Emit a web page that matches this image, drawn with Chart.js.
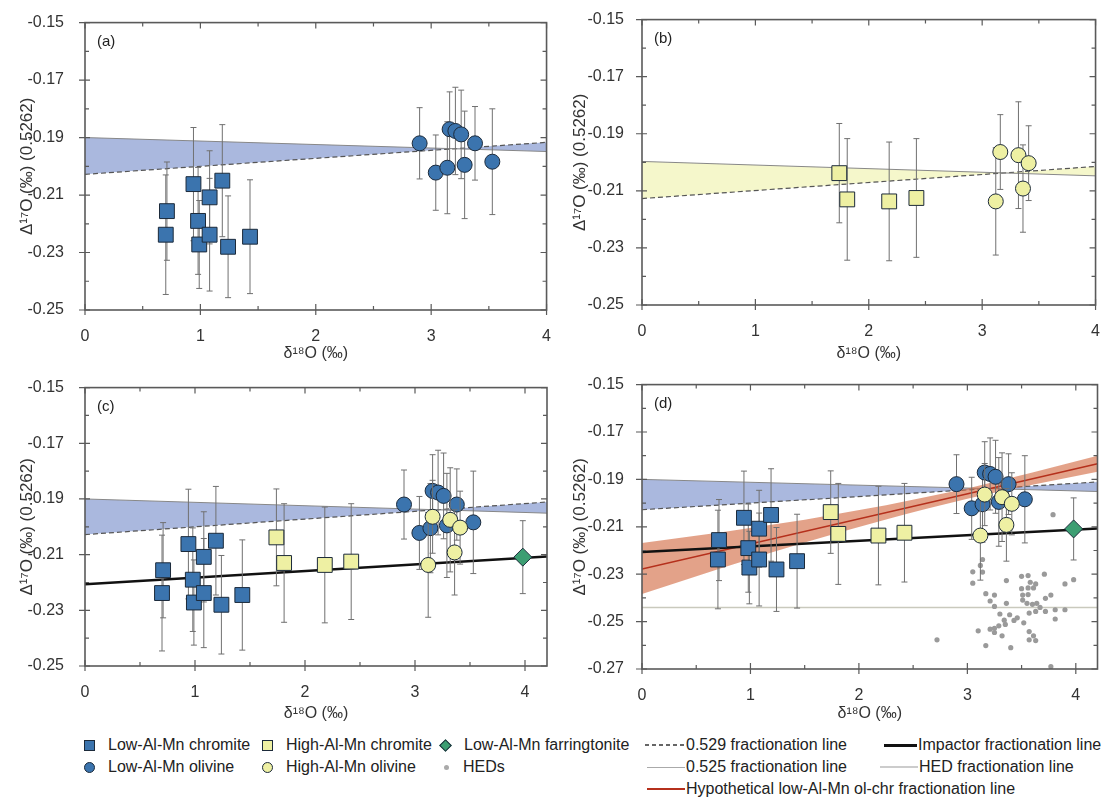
<!DOCTYPE html>
<html lang="en">
<head>
<meta charset="UTF-8">
<title>Oxygen isotope fractionation</title>
<script src="https://cdn.jsdelivr.net/npm/chart.js@4.4.1/dist/chart.umd.min.js"></script>
<style>
  body { margin: 0; background: #fff; width: 1109px; height: 800px; position: relative; overflow: hidden;
         font-family: "Liberation Sans", Arial, sans-serif; color: #222; }
  canvas { position: absolute; }
  .lg { position: absolute; height: 20px; line-height: 20px; font-size: 16px; white-space: nowrap;
        display: flex; align-items: center; }
  .lg i { display: inline-block; flex: none; }
  .sq { width: 9px; height: 9px; border: 1px solid #1c2a3a; margin-right: 13px; }
  .ci { width: 9px; height: 9px; border: 1px solid #1c2a3a; border-radius: 50%; margin-right: 13px; }
  .di { width: 7px; height: 7px; border: 1px solid #1c2a3a; transform: rotate(45deg); margin: 0 14px 0 2px; }
  .dot { width: 5px; height: 5px; border-radius: 50%; background: #aaa; margin-right: 14px; }
  .ln { height: 0; margin-right: 1px; }
</style>
</head>
<body>
<canvas id="pa" width="560" height="365" style="left:0;top:0"></canvas>
<canvas id="pb" width="552" height="365" style="left:557px;top:0"></canvas>
<canvas id="pc" width="560" height="360" style="left:0;top:365px"></canvas>
<canvas id="pd" width="552" height="360" style="left:557px;top:365px"></canvas>

<div class="lg" style="left:84px;top:735px"><i class="sq" style="background:#3b74ae"></i>Low-Al-Mn chromite</div>
<div class="lg" style="left:262px;top:735px"><i class="sq" style="background:#eef0a3"></i>High-Al-Mn chromite</div>
<div class="lg" style="left:439px;top:735px"><i class="di" style="background:#3c9e72"></i>Low-Al-Mn farringtonite</div>
<div class="lg" style="left:645px;top:735px"><i class="ln" style="width:40px;height:1.5px;background:repeating-linear-gradient(90deg,#666 0 4px,transparent 4px 7px)"></i>0.529 fractionation line</div>
<div class="lg" style="left:884px;top:735px"><i class="ln" style="width:33px;border-top:3px solid #111"></i>Impactor fractionation line</div>
<div class="lg" style="left:84px;top:757px"><i class="ci" style="background:#3b74ae"></i>Low-Al-Mn olivine</div>
<div class="lg" style="left:262px;top:757px"><i class="ci" style="background:#eef0a3"></i>High-Al-Mn olivine</div>
<div class="lg" style="left:444px;top:757px"><i class="dot"></i>HEDs</div>
<div class="lg" style="left:647px;top:757px"><i class="ln" style="width:38px;border-top:1.5px solid #aaa"></i>0.525 fractionation line</div>
<div class="lg" style="left:880px;top:757px"><i class="ln" style="width:38px;border-top:2px solid #ccc"></i>HED fractionation line</div>
<div class="lg" style="left:647px;top:779px"><i class="ln" style="width:38px;border-top:2px solid #b5301c"></i>Hypothetical low-Al-Mn ol-chr fractionation line</div>

<script>
// ---- values ----
const xTicks = [0, 1, 2, 3, 4];
const yTicksABC = [-0.25, -0.23, -0.21, -0.19, -0.17, -0.15];
const yTicksD = [-0.27, -0.25, -0.23, -0.21, -0.19, -0.17, -0.15];

// low-Al-Mn chromite (blue squares)
const lowChrX = [0.71, 0.70, 0.94, 0.98, 0.99, 1.08, 1.08, 1.19, 1.24, 1.43];
const lowChrY = [-0.2156, -0.2238, -0.2062, -0.2190, -0.2272, -0.2108, -0.2238, -0.2050, -0.2280, -0.2245];
const lowChrErr = [0.0171, 0.0208, 0.0197, 0.0186, 0.0153, 0.0162, 0.0196, 0.0195, 0.0177, 0.0198];

// low-Al-Mn olivine (blue circles)
const lowOlX = [2.90, 3.04, 3.14, 3.16, 3.21, 3.26, 3.29, 3.38, 3.53];
const lowOlY = [-0.1920, -0.2022, -0.2005, -0.1871, -0.1877, -0.1889, -0.1995, -0.1920, -0.1984];
const lowOlErr = [0.0124, 0.0131, 0.0160, 0.0130, 0.0152, 0.0154, 0.0187, 0.0128, 0.0184];

// high-Al-Mn chromite (yellow squares)
const highChrX = [1.74, 1.81, 2.18, 2.42];
const highChrY = [-0.2038, -0.2130, -0.2137, -0.2125];
const highChrErr = [0.0174, 0.0213, 0.0208, 0.0208];

// high-Al-Mn olivine (yellow circles)
const highOlX = [3.12, 3.16, 3.32, 3.36, 3.41];
const highOlY = [-0.2137, -0.1964, -0.1975, -0.2092, -0.2003];
const highOlErr = [0.0188, 0.0131, 0.0187, 0.0153, 0.0131];

// low-Al-Mn farringtonite (green diamond)
const farrX = [3.98];
const farrY = [-0.2109];
const farrErr = [0.0131];

// HEDs (grey dots)
const hedX = [3.14, 3.12, 3.05, 3.14, 3.05, 3.36, 3.50, 3.56, 3.71, 3.58, 3.63, 3.90, 3.98, 3.50, 3.56,
              3.61, 3.17, 3.25, 3.21, 3.25, 3.36, 3.51, 3.56, 3.51, 3.55, 3.60, 3.64, 3.72, 3.77, 3.67,
              3.72, 3.81, 3.90, 3.63, 3.57, 3.30, 3.39, 3.34, 3.46, 3.43, 3.52, 3.35, 3.29, 3.81, 3.25,
              3.21, 3.25, 3.10, 3.57, 3.61, 3.32, 3.57, 3.63, 2.72, 3.17, 3.40, 3.77, 3.79];
const hedY = [-0.2238, -0.2263, -0.2290, -0.2291, -0.2338, -0.2327, -0.2309, -0.2306, -0.2300, -0.2334,
              -0.2341, -0.2341, -0.2323, -0.2361, -0.2358, -0.2358, -0.2382, -0.2388, -0.2413, -0.2436,
              -0.2423, -0.2388, -0.2386, -0.2409, -0.2423, -0.2427, -0.2423, -0.2402, -0.2388, -0.2440,
              -0.2457, -0.2450, -0.2450, -0.2457, -0.2464, -0.2468, -0.2471, -0.2494, -0.2484, -0.2495,
              -0.2505, -0.2512, -0.2518, -0.2489, -0.2528, -0.2532, -0.2546, -0.2539, -0.2542, -0.2560,
              -0.2560, -0.2577, -0.2580, -0.2577, -0.2601, -0.2610, -0.2690, -0.2049];

// fractionation lines (end points)
const fracX = [0, 4.2];
const frac525Low = [-0.1900, -0.1951];
const frac529Low = [-0.2028, -0.1911];
const frac525High = [-0.1997, -0.2050];
const frac529High = [-0.2127, -0.2009];
const impactorY = [-0.2206, -0.2107];
const hedLineY = [-0.2440, -0.2440];
const hypoY = [-0.2278, -0.1834];
const hypoBandX = [0, 0.75, 1.5, 2.25, 3.0, 3.6, 4.2];
const hypoBandHi = [-0.2168, -0.2122, -0.2070, -0.2009, -0.1938, -0.1871, -0.1800];
const hypoBandLo = [-0.2384, -0.2272, -0.2166, -0.2069, -0.1982, -0.1923, -0.1868];

// ---- styling helpers ----
const BLUE = '#3b74ae', YELLOW = '#eef0a3', GREEN = '#3c9e72', EDGE = '#1c2a3a';
Chart.defaults.font.family = '"Liberation Sans", Arial, sans-serif';
Chart.defaults.font.size = 16;
Chart.defaults.color = '#333';

const pts = (xs, ys) => xs.map((x, i) => ({x: x, y: ys[i]}));

function markers(xs, ys, err, style, fill, r) {
  return { data: pts(xs, ys), err: err, showLine: false, pointStyle: style,
           pointRadius: r, pointHoverRadius: r, pointBackgroundColor: fill,
           pointBorderColor: EDGE, pointBorderWidth: 1 };
}
function line(xs, ys, color, width, dash) {
  return { data: pts(xs, ys), borderColor: color, borderWidth: width, borderDash: dash || [],
           pointRadius: 0, fill: false, tension: 0 };
}
function band(xs, ys, bg) {   // lower edge of a shaded band, filled up to previous dataset
  return { data: pts(xs, ys), borderWidth: 0, borderColor: 'rgba(0,0,0,0)', pointRadius: 0,
           fill: '-1', backgroundColor: bg, cubicInterpolationMode: 'monotone' };
}

// error bars drawn just before each marker dataset
const errorBars = {
  id: 'errorBars',
  beforeDatasetDraw(chart, args) {
    const ds = chart.data.datasets[args.index];
    if (!ds.err) return;
    const y = chart.scales.y, ctx = chart.ctx;
    ctx.save();
    ctx.strokeStyle = '#707070';
    ctx.lineWidth = 1;
    ctx.beginPath();
    args.meta.data.forEach((pt, i) => {
      const v = ds.data[i].y, e = ds.err[i];
      const top = y.getPixelForValue(v + e), bot = y.getPixelForValue(v - e);
      ctx.moveTo(pt.x, top); ctx.lineTo(pt.x, bot);
      ctx.moveTo(pt.x - 3, top); ctx.lineTo(pt.x + 3, top);
      ctx.moveTo(pt.x - 3, bot); ctx.lineTo(pt.x + 3, bot);
    });
    ctx.stroke();
    ctx.restore();
  }
};

// box frame, inward ticks on four sides, panel letter
const frame = {
  id: 'frame',
  afterDraw(chart, args, opts) {
    const {ctx, chartArea: a, scales: {x, y}} = chart;
    const xMaj = x.ticks.map(t => t.value), yMaj = y.ticks.map(t => t.value);
    const xMin = [], yMin = [];
    for (let i = 0; i < xMaj.length - 1; i++) xMin.push((xMaj[i] + xMaj[i + 1]) / 2);
    for (let i = 0; i < yMaj.length - 1; i++) yMin.push((yMaj[i] + yMaj[i + 1]) / 2);
    ctx.save();
    ctx.strokeStyle = '#5a5a5a';
    ctx.lineWidth = 1.6;
    ctx.strokeRect(a.left, a.top, a.right - a.left, a.bottom - a.top);
    ctx.lineWidth = 1.2;
    ctx.beginPath();
    xMaj.forEach(v => {
      const p = x.getPixelForValue(v);
      ctx.moveTo(p, a.bottom + 5); ctx.lineTo(p, a.bottom - 6);
      ctx.moveTo(p, a.top); ctx.lineTo(p, a.top + 6);
    });
    xMin.forEach(v => {
      const p = x.getPixelForValue(v);
      ctx.moveTo(p, a.bottom); ctx.lineTo(p, a.bottom - 4);
      ctx.moveTo(p, a.top); ctx.lineTo(p, a.top + 4);
    });
    yMaj.forEach(v => {
      const p = y.getPixelForValue(v);
      ctx.moveTo(a.left - 6, p); ctx.lineTo(a.left + 5, p);
      ctx.moveTo(a.right, p); ctx.lineTo(a.right - 6, p);
    });
    yMin.forEach(v => {
      const p = y.getPixelForValue(v);
      ctx.moveTo(a.left, p); ctx.lineTo(a.left + 4, p);
      ctx.moveTo(a.right, p); ctx.lineTo(a.right - 4, p);
    });
    ctx.stroke();
    ctx.fillStyle = '#222';
    ctx.font = '15px "Liberation Sans", Arial, sans-serif';
    ctx.textBaseline = 'middle';
    ctx.fillText(opts.label, a.left + 12, a.top + 19);
    ctx.restore();
  }
};

function panel(id, cfg) {
  return new Chart(document.getElementById(id), {
    type: 'line',
    data: { datasets: cfg.datasets },
    options: {
      responsive: false,
      animation: false,
      events: [],
      layout: { padding: { top: cfg.padTop, right: cfg.padRight, left: 0, bottom: 0 } },
      plugins: {
        legend: { display: false },
        tooltip: { enabled: false },
        frame: { label: cfg.label }
      },
      scales: {
        x: {
          type: 'linear', min: 0, max: cfg.xMax,
          grid: { display: false }, border: { display: false },
          afterBuildTicks: s => { s.ticks = xTicks.map(v => ({value: v})); },
          afterFit: s => { s.height = cfg.xAxisH; },
          ticks: { padding: 9, color: '#333', callback: v => String(v) },
          title: { display: true, text: 'δ¹⁸O (‰)', color: '#333', font: { size: 16 },
                   padding: { top: 0, bottom: 2 } }
        },
        y: {
          type: 'linear', min: cfg.yTicks[0], max: -0.15,
          grid: { display: false }, border: { display: false },
          afterBuildTicks: s => { s.ticks = cfg.yTicks.map(v => ({value: v})); },
          afterFit: s => { s.width = 85; },
          ticks: { padding: cfg.yPad, color: '#333', callback: v => v.toFixed(2) },
          title: { display: true, text: 'Δ¹⁷O (‰) (0.5262)', color: '#333', font: { size: 17 },
                   padding: { top: cfg.titlePad, bottom: 0 } }
        }
      }
    },
    plugins: [errorBars, frame]
  });
}

const blueBand = 'rgba(100,125,195,0.55)';
const yellowBand = 'rgba(236,240,160,0.55)';
const redBand = 'rgba(210,105,65,0.62)';

panel('pa', {
  label: '(a)', xMax: 4, yTicks: yTicksABC, padTop: 17, padRight: 12, xAxisH: 55, yPad: 13, titlePad: 17,
  datasets: [
    markers(lowOlX, lowOlY, lowOlErr, 'circle', BLUE, 7.5),
    markers(lowChrX, lowChrY, lowChrErr, 'rect', BLUE, 10.5),
    line(fracX, frac525Low, '#888', 1),
    Object.assign(line(fracX, frac529Low, '#555', 1.2, [5, 3]), { fill: '-1', backgroundColor: blueBand })
  ]
});

panel('pb', {
  label: '(b)', xMax: 4, yTicks: yTicksABC, padTop: 18, padRight: 7, xAxisH: 60, yPad: 10, titlePad: 13,
  datasets: [
    markers(highOlX, highOlY, highOlErr, 'circle', YELLOW, 7.5),
    markers(highChrX, highChrY, highChrErr, 'rect', YELLOW, 10.5),
    line(fracX, frac525High, '#888', 1),
    Object.assign(line(fracX, frac529High, '#555', 1.2, [5, 3]), { fill: '-1', backgroundColor: yellowBand })
  ]
});

panel('pc', {
  label: '(c)', xMax: 4.2, yTicks: yTicksABC, padTop: 12, padRight: 13, xAxisH: 59, yPad: 13, titlePad: 17,
  datasets: [
    markers(farrX, farrY, farrErr, 'rectRot', GREEN, 9),
    markers(highOlX, highOlY, highOlErr, 'circle', YELLOW, 7.5),
    markers(lowOlX, lowOlY, lowOlErr, 'circle', BLUE, 7.5),
    markers(highChrX, highChrY, highChrErr, 'rect', YELLOW, 10.5),
    markers(lowChrX, lowChrY, lowChrErr, 'rect', BLUE, 10.5),
    line(fracX, impactorY, '#111', 2.5),
    line(fracX, frac525Low, '#888', 1),
    Object.assign(line(fracX, frac529Low, '#555', 1.2, [5, 3]), { fill: '-1', backgroundColor: blueBand })
  ]
});

panel('pd', {
  label: '(d)', xMax: 4.2, yTicks: yTicksD, padTop: 12, padRight: 8, xAxisH: 56, yPad: 10, titlePad: 13,
  datasets: [
    markers(farrX, farrY, farrErr, 'rectRot', GREEN, 9),
    markers(highOlX, highOlY, highOlErr, 'circle', YELLOW, 7.5),
    markers(lowOlX, lowOlY, lowOlErr, 'circle', BLUE, 7.5),
    markers(highChrX, highChrY, highChrErr, 'rect', YELLOW, 10.5),
    markers(lowChrX, lowChrY, lowChrErr, 'rect', BLUE, 10.5),
    { data: pts(hedX, hedY), showLine: false, pointRadius: 2.6, pointBackgroundColor: '#9a9a9a',
      pointBorderWidth: 0 },
    line(fracX, impactorY, '#111', 2.5),
    line(fracX, hypoY, '#b5301c', 1.5),
    line(hypoBandX, hypoBandHi, 'rgba(0,0,0,0)', 0),
    band(hypoBandX, hypoBandLo, redBand),
    line(fracX, hedLineY, '#c9c9bd', 1.5),
    line(fracX, frac525Low, '#888', 1),
    Object.assign(line(fracX, frac529Low, '#555', 1.2, [5, 3]), { fill: '-1', backgroundColor: blueBand })
  ]
});
</script>
</body>
</html>
